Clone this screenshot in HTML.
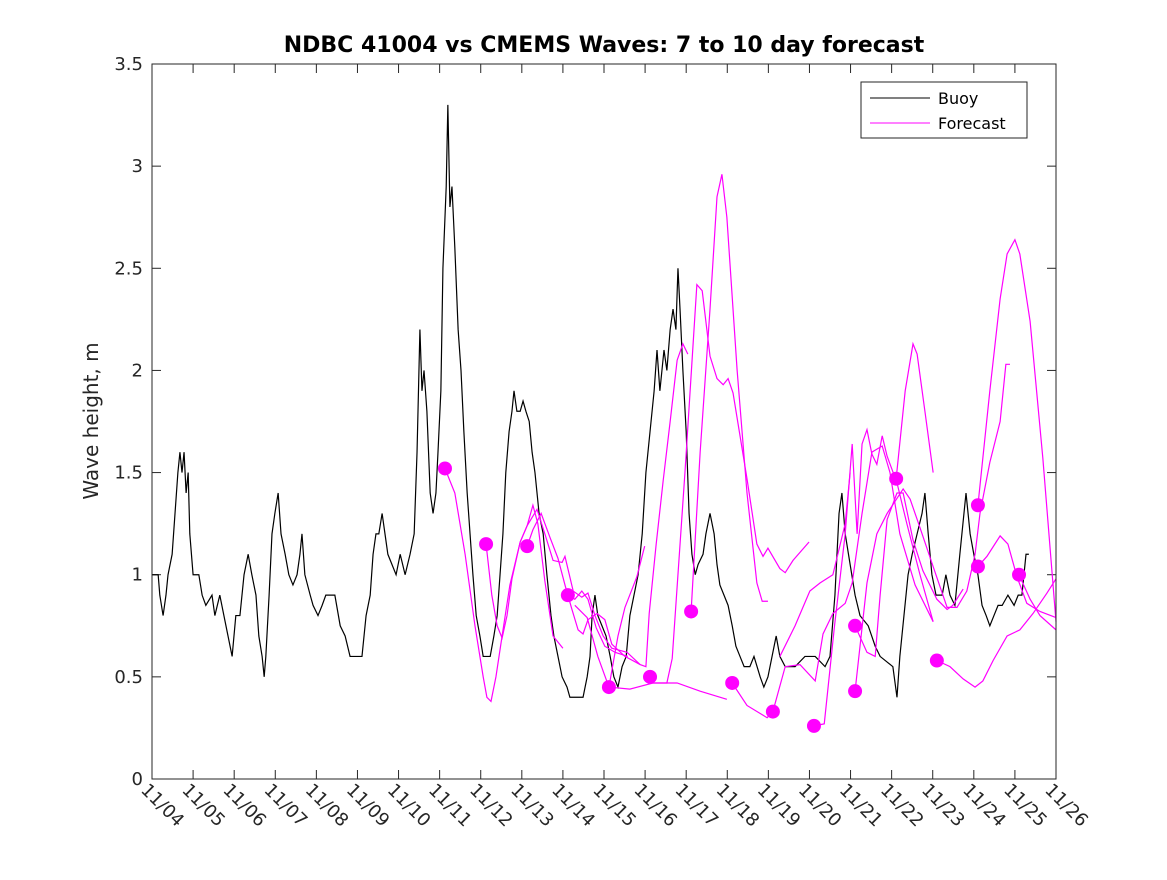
<!DOCTYPE html>
<html><head><meta charset="utf-8"><style>
body{margin:0;background:#fff}
svg text{font-family:"DejaVu Sans","Liberation Sans",sans-serif;fill:#262626}
</style></head><body>
<svg id="chart" width="1167" height="875" viewBox="0 0 1167 875" xmlns="http://www.w3.org/2000/svg">
<rect width="1167" height="875" fill="#fff"/>
<text x="604" y="52" text-anchor="middle" font-size="22" font-weight="bold" style="fill:#000">NDBC 41004 vs CMEMS Waves: 7 to 10 day forecast</text>
<text transform="translate(98,421) rotate(-90)" text-anchor="middle" font-size="20">Wave height, m</text>
<g id="axes"></g>
<g id="series"></g>
<rect x="152" y="64" width="904" height="715" fill="none" stroke="#262626" stroke-width="1"/>
<g>
<rect x="861" y="82" width="166" height="56" fill="#fff" stroke="#262626" stroke-width="1"/>
<line x1="870" y1="98" x2="930" y2="98" stroke="#000" stroke-width="1"/>
<text x="938" y="104" font-size="16" style="fill:#000">Buoy</text>
<line x1="870" y1="123" x2="930" y2="123" stroke="#f0f" stroke-width="1"/>
<text x="938" y="129" font-size="16" style="fill:#000">Forecast</text>
</g>
</svg>
<script>
const xDays = 22;
const yTicks = [0,0.5,1,1.5,2,2.5,3,3.5];
const yTickLabels = ["0","0.5","1","1.5","2","2.5","3","3.5"];
const xTickLabels = ["11/04","11/05","11/06","11/07","11/08","11/09","11/10","11/11","11/12","11/13","11/14","11/15","11/16","11/17","11/18","11/19","11/20","11/21","11/22","11/23","11/24","11/25","11/26"];
const buoyT = [0,.15,.19,.27,.34,.39,.49,.56,.63,.68,.73,.78,.83,.88,.92,1.0,1.14,1.22,1.31,1.46,1.53,1.65,1.75,1.85,1.95,2.04,2.14,2.24,2.34,2.43,2.53,2.60,2.68,2.73,2.77,2.85,2.92,2.99,3.07,3.14,3.24,3.33,3.43,3.53,3.60,3.65,3.72,3.85,3.92,4.04,4.14,4.23,4.45,4.58,4.70,4.82,5.11,5.21,5.31,5.38,5.45,5.52,5.60,5.67,5.74,5.84,5.94,6.04,6.16,6.28,6.38,6.45,6.52,6.57,6.62,6.69,6.77,6.84,6.91,6.96,7.03,7.08,7.16,7.20,7.25,7.30,7.37,7.45,7.52,7.59,7.67,7.74,7.81,7.89,7.98,8.06,8.23,8.32,8.40,8.47,8.54,8.61,8.69,8.76,8.81,8.88,8.96,9.03,9.10,9.18,9.25,9.32,9.42,9.52,9.61,9.71,9.78,9.88,9.98,10.10,10.17,10.49,10.59,10.66,10.71,10.78,10.85,10.95,11.05,11.15,11.24,11.34,11.44,11.54,11.63,11.73,11.83,11.93,12.02,12.12,12.22,12.29,12.36,12.46,12.53,12.61,12.68,12.75,12.80,12.85,12.92,13.00,13.07,13.14,13.22,13.29,13.41,13.48,13.58,13.68,13.75,13.82,13.92,14.02,14.12,14.21,14.31,14.41,14.55,14.65,14.80,14.89,14.99,15.09,15.19,15.28,15.41,15.65,15.89,16.14,16.38,16.50,16.62,16.72,16.79,16.87,16.99,17.11,17.23,17.43,17.60,17.72,18.03,18.13,18.20,18.30,18.40,18.50,18.62,18.74,18.81,18.89,18.98,19.08,19.23,19.32,19.42,19.54,19.66,19.76,19.81,19.91,20.00,20.10,20.20,20.30,20.39,20.49,20.59,20.69,20.83,20.98,21.08,21.17,21.27,21.34];
const buoyH = [1.0,1.0,.9,.8,.9,1.0,1.1,1.3,1.5,1.6,1.5,1.6,1.4,1.5,1.2,1.0,1.0,.9,.85,.9,.8,.9,.8,.7,.6,.8,.8,1.0,1.1,1.0,.9,.7,.6,.5,.6,.9,1.2,1.3,1.4,1.2,1.1,1.0,.95,1.0,1.1,1.2,1.0,.9,.85,.8,.85,.9,.9,.75,.7,.6,.6,.8,.9,1.1,1.2,1.2,1.3,1.2,1.1,1.05,1.0,1.1,1.0,1.1,1.2,1.6,2.2,1.9,2.0,1.8,1.4,1.3,1.4,1.6,1.9,2.5,2.9,3.3,2.8,2.9,2.6,2.2,2.0,1.7,1.4,1.2,1.0,.8,.7,.6,.6,.7,.8,1.0,1.2,1.5,1.7,1.8,1.9,1.8,1.8,1.85,1.8,1.75,1.6,1.5,1.3,1.2,1.0,.8,.7,.6,.5,.45,.4,.4,.5,.6,.8,.9,.8,.75,.7,.6,.5,.45,.55,.6,.8,.9,1.0,1.2,1.5,1.7,1.9,2.1,1.9,2.1,2.0,2.2,2.3,2.2,2.5,2.3,2.0,1.7,1.3,1.1,1.0,1.05,1.1,1.2,1.3,1.2,1.05,.95,.9,.85,.75,.65,.6,.55,.55,.6,.5,.45,.5,.6,.7,.6,.55,.55,.6,.6,.55,.6,.9,1.3,1.4,1.2,1.05,.9,.8,.75,.65,.6,.55,.4,.6,.8,1.0,1.1,1.2,1.3,1.4,1.2,1.0,.9,.9,1.0,.9,.85,1.1,1.3,1.4,1.2,1.1,1.0,.85,.8,.75,.8,.85,.85,.9,.85,.9,.9,1.1,1.1];
const fcT = [
 [7.13,7.37,7.62,7.86,8.06,8.15,8.25,8.37,8.52,8.71,8.96,9.13,9.27,9.39,9.56,9.76,10.00],
 [8.13,8.27,8.40,8.52,8.64,8.76,8.96,9.13,9.37,9.56,9.76,9.98,10.05,10.25,10.46,10.61,10.78,10.98,11.19,11.56,11.88,12.02,12.10,12.27,12.44,12.61,12.78,12.92,13.04],
 [9.13,9.27,9.47,9.69,9.88,10.05,10.22,10.37,10.49,10.61,10.83,11.02,11.19,11.51,11.88],
 [10.12,10.29,10.46,10.61,10.81,11.02,11.27,11.58],
 [10.29,10.59,10.85,11.12,11.34,11.51,11.80,11.99],
 [11.12,11.63,12.19,12.78,13.34,13.99],
 [12.12,12.53,12.66,12.97,13.26,13.39,13.58,13.75,13.90,14.02,14.14,14.48,14.72,14.87,14.99,15.28,15.41,15.60,15.99],
 [13.12,13.34,13.58,13.75,13.87,13.99,14.24,14.48,14.72,14.85,14.99],
 [14.12,14.48,14.97,15.11],
 [15.11,15.41,15.77,16.14,16.33,16.57,16.87,17.04,17.28,17.52,17.77,17.96,18.20,18.57,19.01],
 [16.11,16.36,16.61,16.87,17.04,17.16,17.28,17.40,17.52,17.64,17.77,17.89,18.13,18.37,18.69,19.01],
 [17.11,17.40,17.60,17.72,17.89,18.13,18.28,18.52,18.76,19.10,19.35,19.49,19.74],
 [17.11,17.40,17.64,17.89,18.28,18.45,18.69,19.01,19.35,19.59,19.83,20.03,20.15,20.39,20.64,20.78,20.88],
 [18.11,18.33,18.52,18.62,18.81,19.01],
 [19.10,19.42,19.74,20.03,20.22,20.47,20.81,21.12,21.44,21.78,22.0],
 [20.10,20.39,20.64,20.81,21.00,21.12,21.37,21.68,22.0],
 [20.10,20.32,20.64,20.83,21.05,21.29,21.61,22.0],
 [21.10,21.37,21.61,22.0],
 [15.28,15.65,16.01,16.26,16.57,16.87,16.99]
];
const fcH = [
 [1.52,1.40,1.10,0.75,0.50,0.40,0.38,0.50,0.70,0.95,1.16,1.24,1.34,1.25,0.97,0.70,0.64],
 [1.15,0.90,0.75,0.69,0.80,0.98,1.16,1.24,1.32,1.20,1.07,1.06,1.09,0.92,0.89,0.91,0.80,0.70,0.64,0.62,0.56,0.55,0.81,1.15,1.46,1.75,2.05,2.13,2.08],
 [1.14,1.22,1.30,1.18,1.08,0.95,0.83,0.73,0.71,0.78,0.81,0.78,0.66,0.60,0.56],
 [0.90,0.88,0.92,0.88,0.74,0.65,0.62,0.60],
 [0.85,0.79,0.60,0.45,0.70,0.84,0.99,1.14],
 [0.45,0.44,0.47,0.47,0.43,0.39],
 [0.47,0.47,0.59,1.5,2.42,2.39,2.07,1.96,1.93,1.96,1.89,1.47,1.15,1.09,1.13,1.03,1.01,1.07,1.16],
 [0.82,1.6,2.3,2.85,2.96,2.75,2.0,1.4,0.96,0.87,0.87],
 [0.47,0.36,0.30,0.33],
 [0.33,0.55,0.56,0.48,0.71,0.81,0.86,0.96,1.3,1.6,1.63,1.5,1.2,0.95,0.77],
 [0.26,0.27,0.75,1.2,1.64,1.2,1.64,1.71,1.59,1.54,1.68,1.58,1.45,1.25,1.0,0.77],
 [0.75,0.62,0.60,0.9,1.27,1.40,1.40,1.17,1.02,0.88,0.83,0.85,0.93],
 [0.43,0.96,1.2,1.3,1.42,1.37,1.23,1.04,0.84,0.84,0.92,1.1,1.3,1.55,1.75,2.03,2.03],
 [1.47,1.9,2.13,2.08,1.8,1.5],
 [0.58,0.55,0.49,0.45,0.48,0.58,0.70,0.73,0.81,0.91,0.98],
 [1.34,1.9,2.35,2.57,2.64,2.57,2.24,1.57,0.77],
 [1.04,1.09,1.19,1.15,0.99,0.86,0.82,0.79],
 [1.0,0.88,0.80,0.73],
 [0.6,0.75,0.92,0.96,1.0,1.25,1.5]
];
const dotT = [7.13,8.13,9.13,10.12,11.12,12.12,13.12,14.12,15.11,16.11,17.11,17.11,18.11,19.10,20.10,20.10,21.10];
const dotH = [1.52,1.15,1.14,0.9,0.45,0.5,0.82,0.47,0.33,0.26,0.75,0.43,1.47,0.58,1.34,1.04,1.0];

const NS="http://www.w3.org/2000/svg";
const X0=152,X1=1056,Y0=779,Y1=64,YMAX=3.5;
function xs(d){return X0+d/xDays*(X1-X0);}
function ys(v){return Y0-v/YMAX*(Y0-Y1);}
function mk(tag,attrs,parent){const e=document.createElementNS(NS,tag);for(const k in attrs)e.setAttribute(k,attrs[k]);parent.appendChild(e);return e;}
const axes=document.getElementById('axes'), ser=document.getElementById('series');
yTicks.forEach((v,i)=>{
  const y=ys(v);
  const t1=mk('line',{x1:X0,y1:y,x2:X0+9,y2:y,stroke:'#262626'},axes);
  
  
  const t2=mk('line',{x1:X1,y1:y,x2:X1-9,y2:y,stroke:'#262626'},axes);
  
  
  const tx=mk('text',{x:X0-9,y:y+6,'text-anchor':'end','font-size':'18'},axes);
  tx.textContent=yTickLabels[i];
  
  
});
xTickLabels.forEach((lab,i)=>{
  const x=xs(i);
  const t1=mk('line',{x1:x,y1:Y0,x2:x,y2:Y0-9,stroke:'#262626'},axes);
  
  
  const t2=mk('line',{x1:x,y1:Y1,x2:x,y2:Y1+9,stroke:'#262626'},axes);
  
  
  const tx=mk('text',{transform:`translate(${x-12},${Y0+12}) rotate(45)`,'font-size':'18'},axes);
  tx.textContent=lab;
  
  
});
const bpts=buoyT.map((t,i)=>xs(t)+','+ys(buoyH[i])).join(' ');
const bp=mk('polyline',{points:bpts,fill:'none',stroke:'#000','stroke-width':1.2},ser);


fcT.forEach((ts,k)=>{
  const pts=ts.map((t,i)=>xs(t)+','+ys(fcH[k][i])).join(' ');
  const pl=mk('polyline',{points:pts,fill:'none',stroke:'#f0f','stroke-width':1.2},ser);
  
  
});
dotT.forEach((t,i)=>{
  const c=mk('circle',{cx:xs(t),cy:ys(dotH[i]),r:7,fill:'#f0f'},ser);
  
  
});
</script>
</body></html>
